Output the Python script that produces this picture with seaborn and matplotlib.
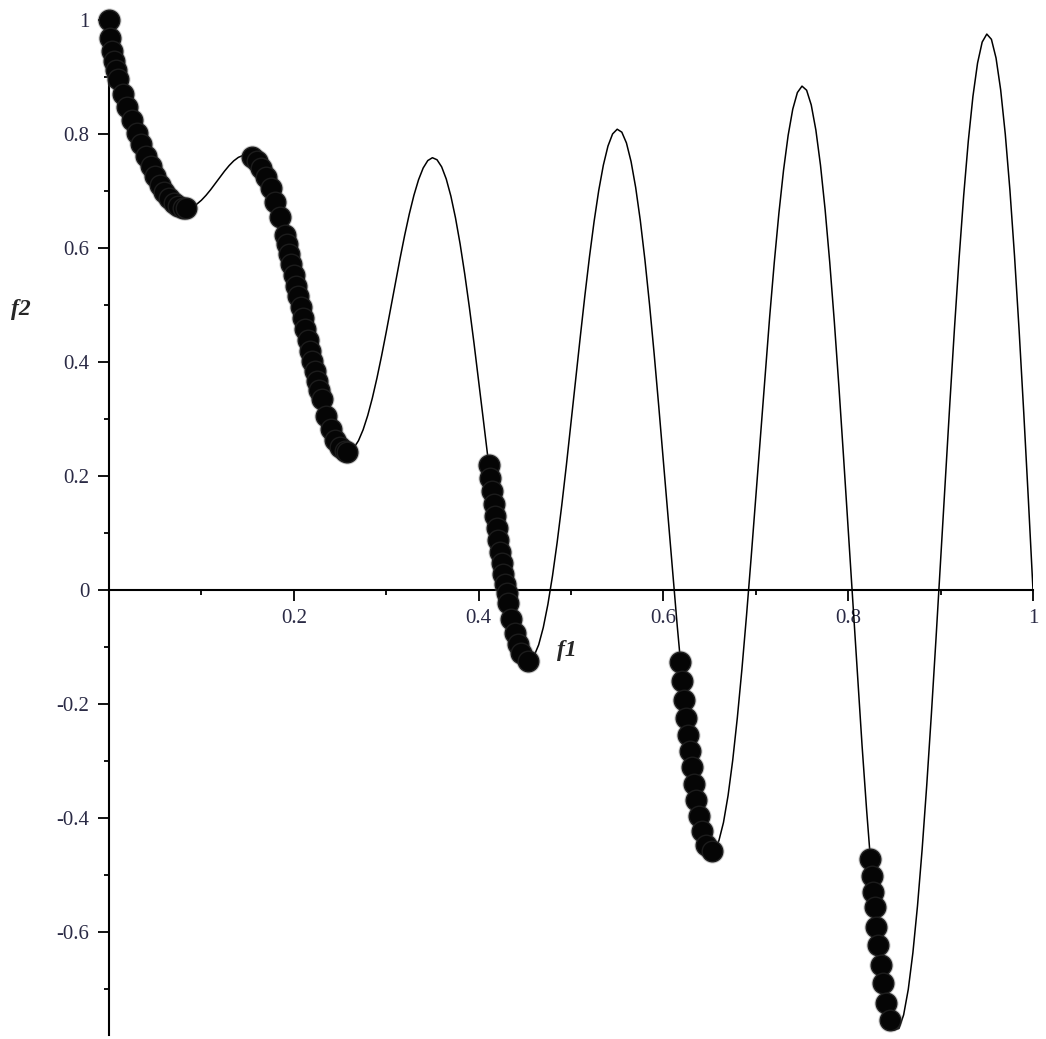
import matplotlib
matplotlib.use("Agg")
import matplotlib.pyplot as plt
import pandas as pd
import seaborn as sns

# objective curve f2(f1) at f1 steps of 0.005
curve_f1 = [
    0.000, 0.005, 0.010, 0.015, 0.020, 0.025, 0.030, 0.035, 0.040, 0.045,
    0.050, 0.055, 0.060, 0.065, 0.070, 0.075, 0.080, 0.085, 0.090, 0.095,
    0.100, 0.105, 0.110, 0.115, 0.120, 0.125, 0.130, 0.135, 0.140, 0.145,
    0.150, 0.155, 0.160, 0.165, 0.170, 0.175, 0.180, 0.185, 0.190, 0.195,
    0.200, 0.205, 0.210, 0.215, 0.220, 0.225, 0.230, 0.235, 0.240, 0.245,
    0.250, 0.255, 0.260, 0.265, 0.270, 0.275, 0.280, 0.285, 0.290, 0.295,
    0.300, 0.305, 0.310, 0.315, 0.320, 0.325, 0.330, 0.335, 0.340, 0.345,
    0.350, 0.355, 0.360, 0.365, 0.370, 0.375, 0.380, 0.385, 0.390, 0.395,
    0.400, 0.405, 0.410, 0.415, 0.420, 0.425, 0.430, 0.435, 0.440, 0.445,
    0.450, 0.455, 0.460, 0.465, 0.470, 0.475, 0.480, 0.485, 0.490, 0.495,
    0.500, 0.505, 0.510, 0.515, 0.520, 0.525, 0.530, 0.535, 0.540, 0.545,
    0.550, 0.555, 0.560, 0.565, 0.570, 0.575, 0.580, 0.585, 0.590, 0.595,
    0.600, 0.605, 0.610, 0.615, 0.620, 0.625, 0.630, 0.635, 0.640, 0.645,
    0.650, 0.655, 0.660, 0.665, 0.670, 0.675, 0.680, 0.685, 0.690, 0.695,
    0.700, 0.705, 0.710, 0.715, 0.720, 0.725, 0.730, 0.735, 0.740, 0.745,
    0.750, 0.755, 0.760, 0.765, 0.770, 0.775, 0.780, 0.785, 0.790, 0.795,
    0.800, 0.805, 0.810, 0.815, 0.820, 0.825, 0.830, 0.835, 0.840, 0.845,
    0.850, 0.855, 0.860, 0.865, 0.870, 0.875, 0.880, 0.885, 0.890, 0.895,
    0.900, 0.905, 0.910, 0.915, 0.920, 0.925, 0.930, 0.935, 0.940, 0.945,
    0.950, 0.955, 0.960, 0.965, 0.970, 0.975, 0.980, 0.985, 0.990, 0.995,
    1.000,
]
curve_f2 = [
    1.0000, 0.9285, 0.8969, 0.8707, 0.8468, 0.8242, 0.8025, 0.7817, 0.7620, 0.7435,
    0.7264, 0.7112, 0.6980, 0.6871, 0.6788, 0.6731, 0.6702, 0.6699, 0.6722, 0.6769,
    0.6838, 0.6924, 0.7023, 0.7131, 0.7241, 0.7348, 0.7446, 0.7529, 0.7590, 0.7624,
    0.7627, 0.7594, 0.7522, 0.7408, 0.7252, 0.7054, 0.6815, 0.6539, 0.6228, 0.5889,
    0.5528, 0.5151, 0.4768, 0.4387, 0.4017, 0.3666, 0.3343, 0.3058, 0.2818, 0.2630,
    0.2500, 0.2431, 0.2428, 0.2491, 0.2620, 0.2811, 0.3062, 0.3367, 0.3719, 0.4108,
    0.4523, 0.4954, 0.5390, 0.5818, 0.6224, 0.6597, 0.6925, 0.7197, 0.7403, 0.7534,
    0.7584, 0.7548, 0.7424, 0.7210, 0.6910, 0.6528, 0.6070, 0.5543, 0.4960, 0.4333,
    0.3675, 0.3003, 0.2330, 0.1674, 0.1050, 0.0476, -0.0036, -0.0471, -0.0818, -0.1066,
    -0.1208, -0.1239, -0.1157, -0.0962, -0.0658, -0.0251, 0.0251, 0.0834, 0.1486, 0.2190,
    0.2929, 0.3684, 0.4435, 0.5162, 0.5846, 0.6466, 0.7008, 0.7453, 0.7788, 0.8001,
    0.8084, 0.8032, 0.7843, 0.7517, 0.7061, 0.6483, 0.5793, 0.5007, 0.4142, 0.3217,
    0.2254, 0.1276, 0.0305, -0.0634, -0.1518, -0.2325, -0.3034, -0.3627, -0.4087, -0.4402,
    -0.4562, -0.4562, -0.4401, -0.4080, -0.3605, -0.2989, -0.2243, -0.1386, -0.0439, 0.0576,
    0.1633, 0.2707, 0.3768, 0.4790, 0.5747, 0.6611, 0.7362, 0.7976, 0.8436, 0.8727,
    0.8840, 0.8768, 0.8510, 0.8070, 0.7454, 0.6677, 0.5753, 0.4704, 0.3553, 0.2327,
    0.1056, -0.0231, -0.1503, -0.2728, -0.3875, -0.4917, -0.5825, -0.6578, -0.7154, -0.7538,
    -0.7720, -0.7692, -0.7453, -0.7008, -0.6365, -0.5541, -0.4554, -0.3425, -0.2184, -0.0860,
    0.0513, 0.1902, 0.3273, 0.4588, 0.5816, 0.6923, 0.7880, 0.8661, 0.9245, 0.9613,
    0.9753, 0.9661, 0.9333, 0.8775, 0.7998, 0.7020, 0.5861, 0.4547, 0.3109, 0.1581,
    0.0000,
]

# points on the front (the big dots), one pair of lists per piece
seg1_f1 = [0.0, 0.001, 0.003, 0.005, 0.0075, 0.01, 0.015, 0.02, 0.025, 0.03, 0.035,
           0.04, 0.045, 0.05, 0.055, 0.06, 0.065, 0.07, 0.075, 0.08, 0.083]
seg1_f2 = [1.0, 0.9684, 0.9449, 0.9285, 0.9116, 0.8969, 0.8707, 0.8468, 0.8242, 0.8025, 0.7817,
           0.7620, 0.7435, 0.7264, 0.7112, 0.6980, 0.6871, 0.6788, 0.6731, 0.6702, 0.6697]

seg2_f1 = [0.155, 0.16, 0.165, 0.17, 0.175, 0.18, 0.185, 0.19, 0.1925, 0.195, 0.1975, 0.2,
           0.2025, 0.205, 0.2075, 0.21, 0.2125, 0.215, 0.2175, 0.22, 0.2225, 0.225, 0.2275,
           0.23, 0.235, 0.24, 0.245, 0.25, 0.255, 0.258]
seg2_f2 = [0.7594, 0.7522, 0.7408, 0.7252, 0.7054, 0.6815, 0.6539, 0.6228, 0.6062, 0.5889, 0.5711, 0.5528,
           0.5341, 0.5151, 0.4961, 0.4768, 0.4577, 0.4387, 0.4200, 0.4017, 0.3838, 0.3666, 0.3500,
           0.3343, 0.3058, 0.2818, 0.2630, 0.2500, 0.2431, 0.2422]

seg3_f1 = [0.411, 0.41275, 0.4145, 0.41625, 0.418, 0.41975, 0.4215, 0.42325, 0.425,
           0.42675, 0.4285, 0.43025, 0.432, 0.4355, 0.439, 0.4425, 0.446, 0.4535]
seg3_f2 = [0.2197, 0.1966, 0.1739, 0.1514, 0.1295, 0.1080, 0.0873, 0.0670, 0.0476,
           0.0288, 0.0110, -0.0060, -0.0220, -0.0510, -0.0757, -0.0955, -0.1103, -0.1242]

seg4_f1 = [0.6185, 0.6205, 0.6225, 0.6245, 0.6265, 0.6285, 0.6305, 0.633, 0.6355,
           0.6385, 0.642, 0.6465, 0.6525]
seg4_f2 = [-0.1261, -0.1602, -0.1933, -0.2249, -0.2549, -0.2832, -0.3097, -0.3404, -0.3679,
           -0.3962, -0.4230, -0.4466, -0.4583]

seg5_f1 = [0.824, 0.8255, 0.827, 0.8285, 0.8305, 0.8325, 0.835, 0.8375, 0.841, 0.845]
seg5_f2 = [-0.4717, -0.5014, -0.5297, -0.5568, -0.5906, -0.6222, -0.6578, -0.6890, -0.7247, -0.7538]

x_ticks = [0.2, 0.4, 0.6, 0.8, 1.0]
x_tick_labels = ["0.2", "0.4", "0.6", "0.8", "1"]
x_minor = [0.1, 0.3, 0.5, 0.7, 0.9]
y_ticks = [-0.6, -0.4, -0.2, 0.0, 0.2, 0.4, 0.6, 0.8, 1.0]
y_tick_labels = ["-0.6", "-0.4", "-0.2", "0", "0.2", "0.4", "0.6", "0.8", "1"]
y_minor = [-0.7, -0.5, -0.3, -0.1, 0.1, 0.3, 0.5, 0.7, 0.9]

front = pd.concat(
    [
        pd.DataFrame({"f1": f1, "f2": f2})
        for f1, f2 in [
            (seg1_f1, seg1_f2),
            (seg2_f1, seg2_f2),
            (seg3_f1, seg3_f2),
            (seg4_f1, seg4_f2),
            (seg5_f1, seg5_f2),
        ]
    ],
    ignore_index=True,
)

sns.set_style("white")
plt.rcParams["font.family"] = ["Liberation Serif", "DejaVu Serif"]
plt.rcParams["axes.unicode_minus"] = False

fig = plt.figure(figsize=(10.46, 10.39), dpi=100)
ax = fig.add_axes([109 / 1046, 4.4 / 1039, 924 / 1046, 1014.6 / 1039])

# thin curve first, dots on top
sns.lineplot(x=curve_f1, y=curve_f2, color="black", linewidth=1.1, ax=ax, zorder=2)
# soft halo under each dot, then the dark dot itself (the original looks blurred)
sns.scatterplot(
    data=front, x="f1", y="f2", color="#6a6a6a", s=300, alpha=0.35,
    linewidth=0, ax=ax, zorder=3, clip_on=False,
)
sns.scatterplot(
    data=front, x="f1", y="f2", color="#050505", s=220,
    edgecolor="#1c1c1c", linewidth=1.0, ax=ax, zorder=4, clip_on=False,
)

ax.set_xlim(0, 1)
ax.set_ylim(-0.78, 1.0)

# axes cross at the origin
sns.despine(ax=ax)
ax.spines["bottom"].set_position(("data", 0))
for side in ["bottom", "left"]:
    ax.spines[side].set_linewidth(1.5)
    ax.spines[side].set_color("black")

ax.set_xticks(x_ticks, x_tick_labels)
ax.set_xticks(x_minor, minor=True)
ax.set_yticks(y_ticks, y_tick_labels)
ax.set_yticks(y_minor, minor=True)
ax.tick_params(which="both", bottom=True, left=True, direction="out", color="black", width=1.3)
ax.tick_params(which="major", length=8, labelsize=15, labelcolor="#2a2a45", pad=6)
ax.tick_params(which="minor", length=3.8)

ax.set_xlabel("f1", fontsize=17, fontweight="bold", fontstyle="italic", va="center", ha="center")
ax.xaxis.set_label_coords(0.4957, 0.379)
ax.set_ylabel("f2", fontsize=17, fontweight="bold", fontstyle="italic", rotation=0,
              va="center", ha="center")
ax.yaxis.set_label_coords(-0.0952, 0.715)

fig.savefig("out.png", dpi=100)
